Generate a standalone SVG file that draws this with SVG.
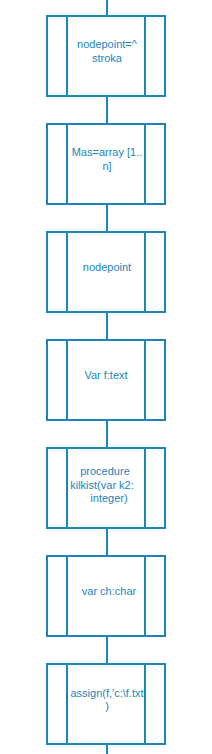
<svg xmlns="http://www.w3.org/2000/svg" width="212" height="754" viewBox="0 0 212 754">
<style>
.b{fill:#fff;stroke:#1b85b8;stroke-width:2}
.l{stroke:#1b85b8;stroke-width:2;fill:none}
.t{font-family:"Liberation Sans",Arial,sans-serif;font-size:11px;fill:#1b85b8;text-anchor:middle}
</style>
<rect width="212" height="754" fill="#fff"/>
<g id="connectors">
<line class="l" x1="107" y1="0" x2="107" y2="16"/>
<line class="l" x1="107" y1="96" x2="107" y2="124"/>
<line class="l" x1="107" y1="204" x2="107" y2="232"/>
<line class="l" x1="107" y1="312" x2="107" y2="340"/>
<line class="l" x1="107" y1="420" x2="107" y2="448"/>
<line class="l" x1="107" y1="528" x2="107" y2="556"/>
<line class="l" x1="107" y1="636" x2="107" y2="664"/>
<line class="l" x1="107" y1="744" x2="107" y2="754"/>
</g>
<defs>
<g id="box">
<rect class="b" x="47" y="0" width="118" height="80"/>
<line class="l" x1="67" y1="0" x2="67" y2="80"/>
<line class="l" x1="145" y1="0" x2="145" y2="80"/>
</g>
</defs>
<g id="n1"><use href="#box" y="16"/><text class="t" x="107" y="48">nodepoint=^</text><text class="t" x="107" y="62">stroka</text></g>
<g id="n2"><use href="#box" y="124"/><text class="t" x="107" y="156">Mas=array [1..</text><text class="t" x="107" y="170">n]</text></g>
<g id="n3"><use href="#box" y="232"/><text class="t" x="107" y="271">nodepoint</text></g>
<g id="n4"><use href="#box" y="340"/><text class="t" x="106" y="379">Var f:text</text></g>
<g id="n5"><use href="#box" y="448"/><text class="t" x="105" y="475">procedure</text><text class="t" x="102" y="489">kilkist(var k2:</text><text class="t" x="109" y="502">integer)</text></g>
<g id="n6"><use href="#box" y="556"/><text class="t" x="109" y="595">var ch:char</text></g>
<g id="n7"><use href="#box" y="664"/><text class="t" x="107" y="697">assign(f,'c:\f.txt</text><text class="t" x="107" y="710">)</text></g>
</svg>
